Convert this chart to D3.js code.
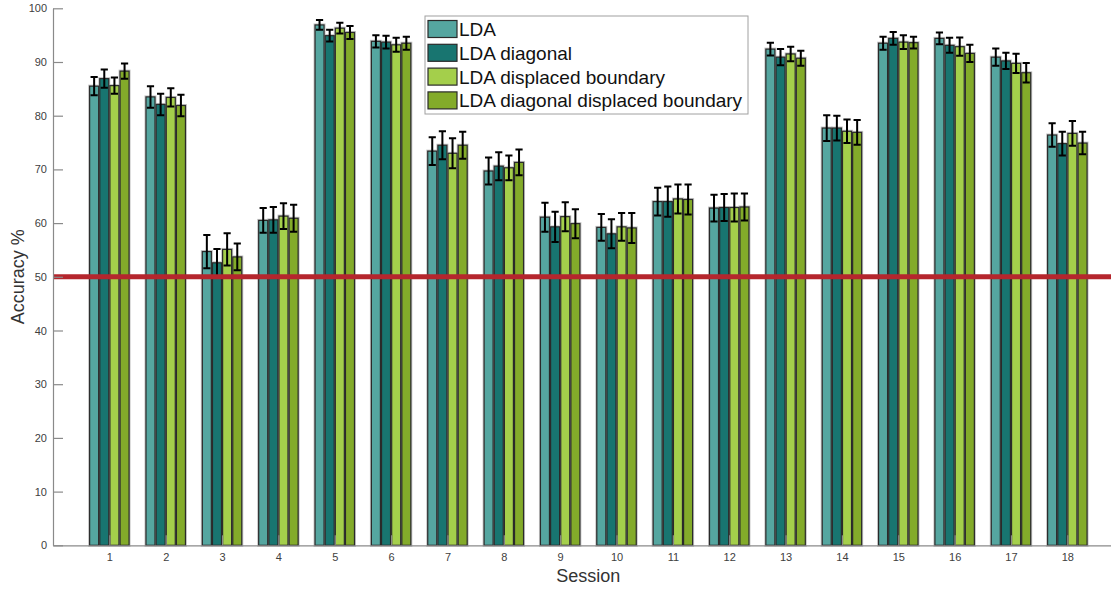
<!DOCTYPE html>
<html>
<head>
<meta charset="utf-8">
<script src="https://cdn.jsdelivr.net/npm/d3@7"></script>
<style>
  body { margin: 0; background: #fff; }
  svg { display: block; font-family: "Liberation Sans", Arial, sans-serif; }
</style>
</head>
<body>
<svg width="1111" height="589"></svg>
<script>
// Data
const sessions = d3.range(1, 19);
const seriesNames = ["LDA", "LDA diagonal", "LDA displaced boundary", "LDA diagonal displaced boundary"];
const seriesColors = ["#55a6a0", "#187570", "#a4cf4b", "#83ab2a"];

const lda         = [85.5, 83.5, 54.7, 60.5, 96.9, 93.85, 73.4, 69.7, 61.1, 59.2, 64.0, 62.8, 92.4, 77.7, 93.5, 94.4, 90.9, 76.4];
const ldaErr      = [1.7, 2.0, 3.1, 2.3, 0.9, 1.15, 2.6, 2.5, 2.7, 2.5, 2.6, 2.5, 1.2, 2.4, 1.2, 1.1, 1.6, 2.2];
const diag        = [86.9, 82.1, 52.6, 60.6, 94.9, 93.7, 74.5, 70.6, 59.3, 58.0, 64.0, 62.9, 90.9, 77.7, 94.4, 93.1, 90.2, 74.8];
const diagErr     = [1.7, 2.0, 2.6, 2.4, 1.1, 1.2, 2.6, 2.6, 2.8, 2.7, 2.8, 2.5, 1.5, 2.3, 1.2, 1.4, 1.5, 2.2];
const disp        = [85.6, 83.4, 55.1, 61.3, 96.3, 93.2, 73.0, 70.3, 61.2, 59.3, 64.5, 62.9, 91.5, 77.1, 93.7, 92.85, 89.75, 76.7];
const dispErr     = [1.5, 1.7, 3.0, 2.4, 1.0, 1.3, 2.8, 2.3, 2.7, 2.6, 2.7, 2.6, 1.35, 2.2, 1.3, 1.7, 1.8, 2.3];
const diagDisp    = [88.3, 81.9, 53.7, 60.9, 95.5, 93.5, 74.5, 71.3, 59.9, 59.1, 64.4, 63.0, 90.7, 76.9, 93.6, 91.6, 88.0, 74.9];
const diagDispErr = [1.4, 2.0, 2.5, 2.5, 1.2, 1.2, 2.5, 2.4, 2.7, 2.8, 2.8, 2.5, 1.4, 2.3, 1.1, 1.6, 1.8, 2.1];

const yTicks = d3.range(0, 101, 10);
const chance = 50;

const values = [lda, diag, disp, diagDisp];
const errors = [ldaErr, diagErr, dispErr, diagDispErr];

const svg = d3.select("svg"),
    width = +svg.attr("width"),
    height = +svg.attr("height");

// Scales (x axis runs 0..19 and is cut at the right edge like the original)
const x = d3.scaleLinear().domain([0, 19]).range([53, 1123.7]);
const y = d3.scaleLinear().domain([0, 100]).range([545.3, 8.3]);
const step = x(1) - x(0);
const pitch = step * 0.18;
const barW = step * 0.16;

// flatten into bar records
const bars = [];
values.forEach((vals, s) => {
    vals.forEach((v, i) => {
        bars.push({ s: s, session: sessions[i], v: v, e: errors[s][i] });
    });
});
const barX = d => x(d.session) + (d.s - 1.5) * pitch;

// Bars: light halo under a dark edge
const gBars = svg.append("g");
gBars.selectAll("rect.halo")
    .data(bars)
    .join("rect")
        .attr("class", "halo")
        .attr("x", d => barX(d) - barW / 2)
        .attr("width", barW)
        .attr("y", d => y(d.v))
        .attr("height", d => y(0) - y(d.v))
        .attr("fill", "none")
        .attr("stroke", "#c4c4c4")
        .attr("stroke-width", 3);
gBars.selectAll("rect.bar")
    .data(bars)
    .join("rect")
        .attr("class", "bar")
        .attr("x", d => barX(d) - barW / 2)
        .attr("width", barW)
        .attr("y", d => y(d.v))
        .attr("height", d => y(0) - y(d.v))
        .attr("fill", d => seriesColors[d.s])
        .attr("stroke", "#2a2a2a")
        .attr("stroke-width", 1.2);

// Error bars
const cap = 3.6;
const gErr = svg.append("g")
    .attr("stroke", "#000")
    .attr("stroke-width", 2);
gErr.selectAll("path")
    .data(bars)
    .join("path")
        .attr("fill", "none")
        .attr("d", d => {
            const cx = barX(d), t = y(d.v + d.e), b = y(d.v - d.e);
            return `M${cx},${t}V${b}M${cx - cap},${t}H${cx + cap}M${cx - cap},${b}H${cx + cap}`;
        });

// Chance level line
svg.append("line")
    .attr("x1", x(0))
    .attr("x2", width)
    .attr("y1", y(chance))
    .attr("y2", y(chance))
    .attr("stroke", "#b5262d")
    .attr("stroke-width", 5);

// Axes
const yAxis = svg.append("g")
    .attr("transform", `translate(${x(0)},0)`)
    .call(d3.axisLeft(y).tickValues(yTicks).tickSizeInner(-10).tickSizeOuter(0).tickPadding(6));
const xAxis = svg.append("g")
    .attr("transform", `translate(0,${y(0)})`)
    .call(d3.axisBottom(x).tickValues(sessions).tickFormat(d3.format("d")).tickSizeInner(-10).tickSizeOuter(0).tickPadding(8));

[yAxis, xAxis].forEach(a => {
    a.select(".domain").attr("stroke", "#8a8a8a").attr("stroke-width", 1.2);
    a.selectAll(".tick line").attr("stroke", "#8a8a8a").attr("stroke-width", 1.2);
    a.selectAll(".tick text")
        .attr("fill", "#404040")
        .style("font-size", "11px")
        .style("font-family", "'Liberation Sans', Arial, sans-serif");
});

// Axis labels
svg.append("text")
    .attr("transform", `translate(24,${(y(0) + y(100)) / 2}) rotate(-90)`)
    .attr("text-anchor", "middle")
    .attr("fill", "#333")
    .style("font-size", "18px")
    .text("Accuracy %");
svg.append("text")
    .attr("x", (x(0) + x(19)) / 2)
    .attr("y", 582)
    .attr("text-anchor", "middle")
    .attr("fill", "#333")
    .style("font-size", "18px")
    .text("Session");

// Legend
const legend = svg.append("g").attr("transform", "translate(425,16)");
legend.append("rect")
    .attr("width", 323)
    .attr("height", 98)
    .attr("fill", "#fff")
    .attr("stroke", "#a0a0a0")
    .attr("stroke-width", 1);
const items = legend.selectAll("g.item")
    .data(seriesNames)
    .join("g")
        .attr("class", "item")
        .attr("transform", (d, i) => `translate(3,${4.5 + i * 23.8})`);
items.append("rect")
    .attr("width", 29)
    .attr("height", 17)
    .attr("fill", (d, i) => seriesColors[i])
    .attr("stroke", "#2a2a2a")
    .attr("stroke-width", 1.2);
items.append("text")
    .attr("x", 31)
    .attr("y", 15.5)
    .attr("fill", "#111")
    .style("font-size", "19px")
    .text(d => d);
</script>
</body>
</html>
